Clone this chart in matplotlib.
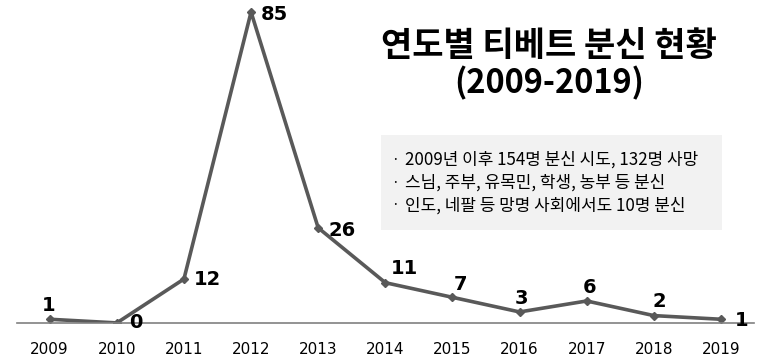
import matplotlib.pyplot as plt

plt.rcParams['font.family'] = ['Noto Sans CJK KR', 'DejaVu Sans']

years = ['2009', '2010', '2011', '2012', '2013', '2014', '2015', '2016', '2017', '2018', '2019']
counts = [1, 0, 12, 85, 26, 11, 7, 3, 6, 2, 1]
# label offsets in points (dx, dy) relative to each data point
label_offsets = [(-1, 10), (14, 0), (17, 0), (17, -2), (17, -2), (14, 10), (6, 9), (1, 10), (2, 10), (4, 10), (15, -1)]
notes = ['2009년 이후 154명 분신 시도, 132명 사망',
         '스님, 주부, 유목민, 학생, 농부 등 분신',
         '인도, 네팔 등 망명 사회에서도 10명 분신']

fig = plt.figure(figsize=(7.63, 3.58), dpi=100)
ax = fig.add_axes([0.022, 0.098, 0.966, 0.902])
ax.set_facecolor('none')

x = list(range(len(years)))
ax.plot(x, counts, color='#595959', lw=2.6, marker='D', ms=4.5)
ax.set_xlim(-0.49, 10.49)
ax.set_ylim(0, 88.3)

for xi, v, (dx, dy) in zip(x, counts, label_offsets):
    ax.annotate(str(v), (xi, v), xytext=(dx, dy), textcoords='offset points',
                ha='center', va='center', fontsize=14, fontweight='bold',
                family=['DejaVu Sans'])

for s in ['top', 'right', 'left']:
    ax.spines[s].set_visible(False)
ax.spines['bottom'].set_color('#808080')
ax.spines['bottom'].set_linewidth(1.2)
ax.set_yticks([])
ax.set_xticks(x)
ax.set_xticklabels(years, fontsize=11, family=['DejaVu Sans'])
ax.tick_params(axis='x', length=0, pad=14)

fig.text(0.72, 0.874, '연도별 티베트 분신 현황', ha='center', va='center',
         fontsize=24.5, fontweight='bold')
fig.text(0.72, 0.767, '(2009-2019)', ha='center', va='center',
         fontsize=23.5, fontweight='bold')

box = plt.Rectangle((0.4993, 0.3575), 0.447, 0.265, transform=fig.transFigure,
                    facecolor='#F2F2F2', edgecolor='none', zorder=1)
fig.add_artist(box)
for i, line in enumerate(notes):
    y = 0.553 - i * 0.063
    fig.text(0.513, y, '·', ha='left', va='center', fontsize=10, zorder=2)
    fig.text(0.531, y, line, ha='left', va='center', fontsize=12.2, zorder=2)

fig.savefig('out.png', dpi=100)
